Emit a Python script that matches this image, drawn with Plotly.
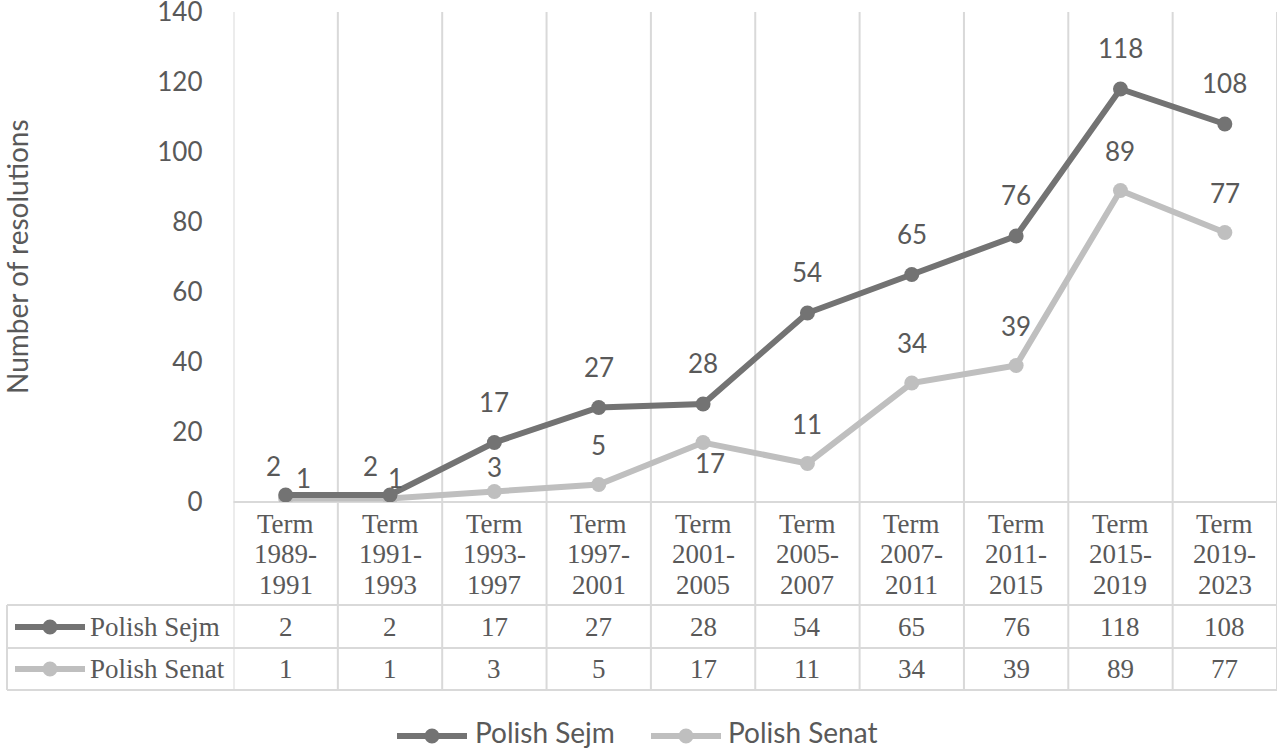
import plotly.graph_objects as go

term_starts = ["1989", "1991", "1993", "1997", "2001", "2005", "2007", "2011", "2015", "2019"]
term_ends = ["1991", "1993", "1997", "2001", "2005", "2007", "2011", "2015", "2019", "2023"]
sejm = [2, 2, 17, 27, 28, 54, 65, 76, 118, 108]
senat = [1, 1, 3, 5, 17, 11, 34, 39, 89, 77]
series_names = ["Polish Sejm", "Polish Senat"]
y_ticks = [0, 20, 40, 60, 80, 100, 120, 140]

# label offsets (pixels) for data labels
sejm_shift = [(-12, 29), (-20, 29)] + [(0, 41)] * 8
senat_shift = [(18, 21), (5, 21), (0, 25), (0, 40), (7, -20)] + [(0, 40)] * 5

W, H = 1280, 750
SEJM_C = "#737373"
SENAT_C = "#bfbfbf"
TXT = "#595959"
GRID = "#d9d9d9"
SANS = "Lato, 'Open Sans', sans-serif"
SERIF = "'Liberation Serif', 'DejaVu Serif', serif"
NUM_SIZE = 26
TXT_SIZE = 28
TAB_SIZE = 27

X0, X1 = 233.5, 1277.0
Y_TOP, Y_BOT = 12.0, 502.0

def px(x):
    return x / W

def py(y):
    return 1 - y / H

n = len(term_starts)
xs = list(range(n))

fig = go.Figure()
fig.add_trace(go.Scatter(x=xs, y=senat, mode="lines+markers", name=series_names[1],
                         line=dict(color=SENAT_C, width=6),
                         marker=dict(color=SENAT_C, size=15), showlegend=False))
fig.add_trace(go.Scatter(x=xs, y=sejm, mode="lines+markers", name=series_names[0],
                         line=dict(color=SEJM_C, width=6),
                         marker=dict(color=SEJM_C, size=15), showlegend=False))

shapes = []
annotations = []

for k in range(n + 1):
    shapes.append(dict(type="line", xref="x", yref="paper", x0=k - 0.5, x1=k - 0.5,
                       y0=py(690), y1=py(Y_TOP), line=dict(color=GRID, width=2), layer="below"))
shapes.append(dict(type="line", xref="paper", yref="paper", x0=px(X0), x1=px(X1),
                   y0=py(Y_BOT), y1=py(Y_BOT), line=dict(color=GRID, width=2), layer="below"))
for yy in [605, 648, 690]:
    shapes.append(dict(type="line", xref="paper", yref="paper", x0=px(7), x1=px(X1),
                       y0=py(yy), y1=py(yy), line=dict(color=GRID, width=2), layer="below"))
shapes.append(dict(type="line", xref="paper", yref="paper", x0=px(7), x1=px(7),
                   y0=py(690), y1=py(605), line=dict(color=GRID, width=2), layer="below"))

def legend_key(cx, cy, color, half=35, r=7.5):
    shapes.append(dict(type="line", xref="paper", yref="paper", x0=px(cx - half), x1=px(cx + half),
                       y0=py(cy), y1=py(cy), line=dict(color=color, width=6)))
    shapes.append(dict(type="circle", xref="paper", yref="paper", x0=px(cx - r), x1=px(cx + r),
                       y0=py(cy + r), y1=py(cy - r), fillcolor=color, line=dict(color=color, width=0)))

for i in range(n):
    for txt, yy in [("Term", 524), (term_starts[i] + "-", 554), (term_ends[i], 585)]:
        annotations.append(dict(x=i, y=py(yy), xref="x", yref="paper", text=txt, showarrow=False,
                                font=dict(family=SERIF, size=TAB_SIZE, color=TXT),
                                xanchor="center", yanchor="middle"))
rows = [(sejm, SEJM_C, 627), (senat, SENAT_C, 669)]
for (vals, col, yy), name in zip(rows, series_names):
    legend_key(50, yy, col)
    annotations.append(dict(x=px(88), y=py(yy), xref="paper", yref="paper", text=name,
                            showarrow=False, font=dict(family=SERIF, size=TAB_SIZE, color=TXT),
                            xanchor="left", yanchor="middle"))
    for i, v in enumerate(vals):
        annotations.append(dict(x=i, y=py(yy), xref="x", yref="paper", text=str(v),
                                showarrow=False, font=dict(family=SERIF, size=TAB_SIZE, color=TXT),
                                xanchor="center", yanchor="middle"))

for vals, shifts in [(sejm, sejm_shift), (senat, senat_shift)]:
    for i, v in enumerate(vals):
        dx, dy = shifts[i]
        annotations.append(dict(x=i, y=v, xref="x", yref="y", text=str(v), showarrow=False,
                                xshift=dx, yshift=dy, font=dict(family=SANS, size=NUM_SIZE, color=TXT),
                                xanchor="center", yanchor="middle"))

annotations.append(dict(x=px(17), y=py(257), xref="paper", yref="paper",
                        text="Number of resolutions", textangle=-90, showarrow=False,
                        font=dict(family=SANS, size=TXT_SIZE, color=TXT),
                        xanchor="center", yanchor="middle"))

legend_key(432, 736, SEJM_C)
annotations.append(dict(x=px(473), y=py(732), xref="paper", yref="paper", text=series_names[0],
                        showarrow=False, font=dict(family=SANS, size=TXT_SIZE, color=TXT),
                        xanchor="left", yanchor="middle"))
legend_key(686, 736, SENAT_C)
annotations.append(dict(x=px(726), y=py(732), xref="paper", yref="paper", text=series_names[1],
                        showarrow=False, font=dict(family=SANS, size=TXT_SIZE, color=TXT),
                        xanchor="left", yanchor="middle"))

fig.update_layout(
    template="none",
    width=W, height=H,
    margin=dict(l=0, r=0, t=0, b=0, pad=0, autoexpand=False),
    paper_bgcolor="white", plot_bgcolor="white",
    showlegend=False,
    shapes=shapes, annotations=annotations,
    xaxis=dict(domain=[px(X0), px(X1)], range=[-0.5, n - 0.5], showticklabels=False,
               showgrid=False, zeroline=False, showline=False, ticks="", automargin=False),
    yaxis=dict(domain=[py(Y_BOT), py(Y_TOP)], range=[0, 140], tickvals=y_ticks,
               showgrid=False, zeroline=False, showline=False, ticks="", automargin=False,
               ticklabelstandoff=30, ticklabeloverflow="allow",
               tickfont=dict(family=SANS, size=NUM_SIZE, color=TXT)),
)

fig.write_html("out.html", config={"displayModeBar": False},
               post_script="document.body.style.margin='0';")
